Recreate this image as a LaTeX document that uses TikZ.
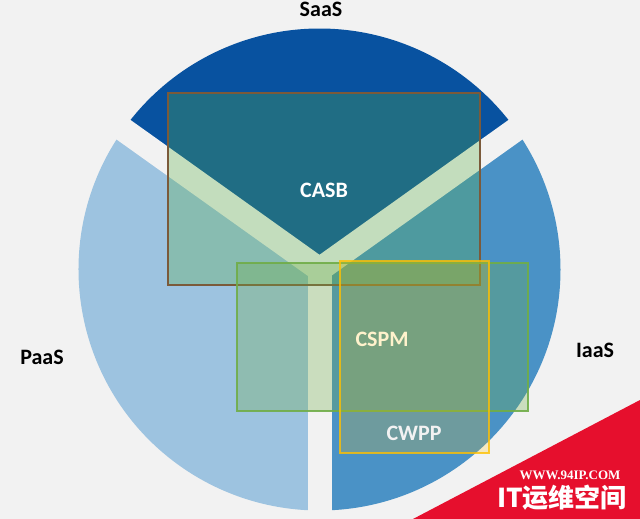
\documentclass[tikz,border=0pt]{standalone}
\usepackage{fontspec}
\setmainfont{Carlito}
\newfontfamily\wmserif{Liberation Serif}
\newfontfamily\cjk{Noto Sans CJK SC}
\definecolor{bgc}{HTML}{F2F2F2}
\definecolor{saasc}{HTML}{0852A0}
\definecolor{paasc}{HTML}{9DC3E0}
\definecolor{iaasc}{HTML}{4A92C6}
\definecolor{greenc}{HTML}{70AD47}
\definecolor{casbfill}{HTML}{58AD45}
\definecolor{goldc}{HTML}{FFC000}
\definecolor{brownc}{HTML}{7B5A3A}
\definecolor{redc}{HTML}{E60F2D}
\definecolor{paleyellow}{HTML}{FFF2CC}
\tikzset{
  lbl/.style={font=\bfseries\fontsize{22}{22}\selectfont, inner sep=0pt},
  gapline/.style={draw=bgc, line width=24pt},
  casbbox/.style={draw=brownc, line width=2pt, fill=casbfill, fill opacity=0.3},
  cspmbox/.style={draw=greenc, draw opacity=0.9, line width=2pt, fill=greenc, fill opacity=0.3},
  cwppbox/.style={draw=goldc, draw opacity=0.8, line width=2pt, fill=goldc, fill opacity=0.2},
}
\begin{document}
\begin{tikzpicture}[x=1pt,y=1pt]
\useasboundingbox (0,0) rectangle (640,519);
\fill[bgc] (0,0) rectangle (640,519);
\coordinate (O) at (319.5,249.5);
% sectors
\fill[saasc] (O) -- ++(35.5:241) arc[start angle=35.5,end angle=144.5,radius=241pt] -- cycle;
\fill[iaasc] (O) -- ++(-90:241) arc[start angle=-90,end angle=35.5,radius=241pt] -- cycle;
\fill[paasc] (O) -- ++(144.5:241) arc[start angle=144.5,end angle=270,radius=241pt] -- cycle;
% gaps
\path (O) ++(270:262) coordinate (gdown) (O) ++(144.5:262) coordinate (gleft) (O) ++(35.5:262) coordinate (gright);
\draw[gapline] (O) -- (gdown);
\draw[gapline] (O) -- (gleft);
\draw[gapline] (O) -- (gright);
\fill[bgc] (O) circle (12pt);
% overlay boxes
\draw[casbbox] (168,426) rectangle (480,234);
\draw[cspmbox] (237,256) rectangle (528,108);
\draw[cwppbox] (340,258) rectangle (489,66);
% labels
\node[lbl] (saas) at (321,509.5) {SaaS};
\node[lbl] (paas) at (42,162) {PaaS};
\node[lbl] (iaas) at (595,169) {IaaS};
\node[lbl, text=white] (casb) at (324,329) {CASB};
\node[lbl, text=paleyellow] (cspm) at (382,179.5) {CSPM};
\node[lbl, text=bgc] (cwpp) at (414,86) {CWPP};
% watermark
\fill[redc] (413,0) -- (640,119) -- (640,0) -- cycle;
\node[text=white, inner sep=0pt, font=\wmserif\bfseries\fontsize{13}{13}\selectfont] (wmurl) at (570,44) {WWW.94IP.COM};
\node[text=white, inner sep=0pt, font=\cjk\bfseries\fontsize{26}{26}\selectfont] (wmname) at (562,21) {IT运维空间};
\end{tikzpicture}
\end{document}
